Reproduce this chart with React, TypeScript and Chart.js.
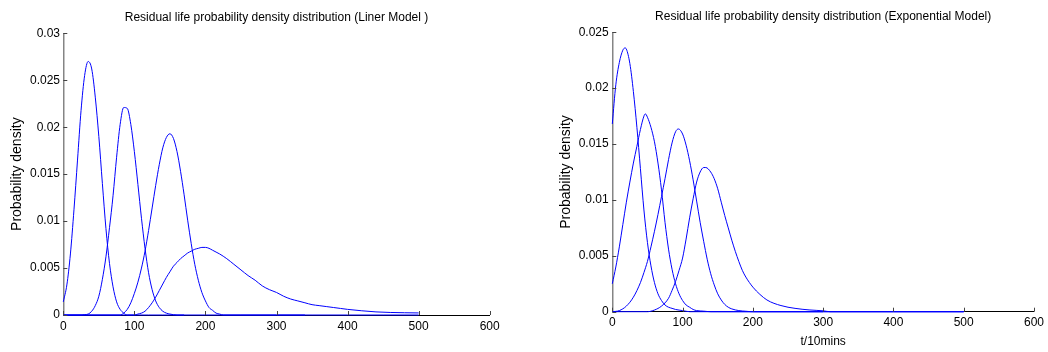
import React, { useEffect, useRef } from "react";
import { Chart, registerables } from "chart.js";

Chart.register(...registerables);

// ---------- Left chart (Liner Model) ----------
const leftTitle = "Residual life probability density distribution (Liner Model )";
const leftYTickLabels = ["0", "0.005", "0.01", "0.015", "0.02", "0.025", "0.03"];
const xTickLabels = ["0", "100", "200", "300", "400", "500", "600"];

const L1x = [0, 5, 10, 15, 20, 25, 30, 35, 40, 45, 50, 55, 60, 65, 70, 75, 80, 85, 90, 100, 120, 140, 170];
const L1y = [0.0014, 0.0032, 0.0065, 0.0112, 0.0165, 0.0218, 0.0255, 0.027, 0.0262, 0.0232, 0.019, 0.014, 0.0092, 0.0055, 0.003, 0.0014, 0.0006, 0.0002, 0, 0, 0, 0, 0];

const L2x = [0, 25, 30, 35, 40, 45, 50, 55, 60, 65, 70, 75, 80, 85, 90, 95, 100, 105, 110, 115, 120, 125, 130, 135, 140, 145, 150, 160, 200, 250, 300, 340];
const L2y = [0, 0, 0.00004, 0.0001, 0.0004, 0.001, 0.002, 0.0038, 0.0062, 0.0093, 0.0127, 0.0168, 0.0203, 0.0221, 0.022, 0.0203, 0.0174, 0.0139, 0.0103, 0.0071, 0.0045, 0.0027, 0.0015, 0.0008, 0.0004, 0.0002, 0.0001, 0, 0, 0, 0, 0];

const L3x = [0, 80, 85, 90, 95, 100, 105, 110, 115, 120, 125, 130, 135, 140, 145, 150, 155, 160, 165, 170, 175, 180, 185, 190, 195, 200, 205, 210, 215, 220, 225, 250, 300, 350, 400, 450, 500];
const L3y = [0, 0, 0.0002, 0.0006, 0.0013, 0.0023, 0.0035, 0.005, 0.0068, 0.009, 0.0114, 0.0138, 0.016, 0.0178, 0.0189, 0.0193, 0.0188, 0.0174, 0.0153, 0.0128, 0.0101, 0.0076, 0.0054, 0.0037, 0.0024, 0.0015, 0.0008, 0.0005, 0.0002, 0.0001, 0, 0, 0, 0, 0, 0, 0];

const L4x = [0, 100, 105, 110, 115, 120, 125, 130, 135, 140, 145, 150, 155, 160, 165, 170, 175, 180, 185, 190, 195, 200, 205, 210, 215, 220, 230, 240, 250, 260, 270, 280, 290, 300, 310, 320, 330, 340, 350, 360, 370, 380, 390, 400, 420, 440, 460, 480, 500];
const L4y = [0, 0, 0.0001, 0.0002, 0.0004, 0.0008, 0.0013, 0.0019, 0.0026, 0.0033, 0.004, 0.0046, 0.0052, 0.0056, 0.006, 0.0063, 0.0066, 0.0068, 0.007, 0.0071, 0.0072, 0.0072, 0.0071, 0.0069, 0.0067, 0.0065, 0.006, 0.0054, 0.0048, 0.0042, 0.0037, 0.0031, 0.0027, 0.0024, 0.002, 0.0017, 0.0015, 0.0013, 0.0011, 0.001, 0.0009, 0.0008, 0.0007, 0.0006, 0.00045, 0.00033, 0.00027, 0.00024, 0.00022];

// ---------- Right chart (Exponential Model) ----------
const rightTitle = "Residual life probability density distribution (Exponential Model)";
const rightYTickLabels = ["0", "0.005", "0.01", "0.015", "0.02", "0.025"];
const rightXTitle = "t/10mins";
const yTitle = "Probability density";

const E1x = [0, 5, 10, 15, 18, 20, 25, 30, 35, 40, 45, 50, 55, 60, 65, 70, 75, 80, 85, 90, 100, 110, 150, 200, 300];
const E1y = [0.0168, 0.0203, 0.0223, 0.0234, 0.0236, 0.0235, 0.0222, 0.0197, 0.0165, 0.0128, 0.0091, 0.0062, 0.0041, 0.0026, 0.0016, 0.001, 0.0006, 0.0004, 0.0003, 0.0002, 0.0001, 0, 0, 0, 0];

const E2x = [0, 5, 10, 15, 20, 25, 30, 35, 40, 45, 47, 50, 55, 60, 65, 70, 75, 80, 85, 90, 95, 100, 105, 110, 115, 120, 130, 140, 200, 300, 400, 500];
const E2y = [0.0025, 0.004, 0.0058, 0.0078, 0.0098, 0.0116, 0.0133, 0.0148, 0.0163, 0.0175, 0.0177, 0.0174, 0.0165, 0.0152, 0.0133, 0.0109, 0.008, 0.0056, 0.0038, 0.0025, 0.0016, 0.001, 0.0006, 0.0004, 0.0002, 0.0001, 0.00005, 0, 0, 0, 0, 0];

const E3x = [0, 10, 20, 30, 40, 45, 50, 55, 60, 65, 70, 75, 80, 85, 90, 94, 100, 105, 110, 115, 120, 125, 130, 135, 140, 145, 150, 155, 160, 165, 170, 180, 190, 200, 300, 400, 500];
const E3y = [0, 0.0001, 0.0005, 0.0013, 0.0026, 0.0035, 0.0045, 0.0058, 0.0072, 0.0087, 0.0103, 0.0119, 0.0136, 0.0151, 0.0161, 0.01635, 0.0159, 0.0149, 0.0135, 0.0118, 0.0099, 0.008, 0.0063, 0.0047, 0.0034, 0.0024, 0.0016, 0.00105, 0.00065, 0.0004, 0.00025, 0.0001, 0.00004, 0, 0, 0, 0];

const E4x = [0, 50, 60, 70, 80, 85, 90, 95, 100, 105, 110, 115, 120, 125, 130, 133, 140, 145, 150, 155, 160, 165, 170, 175, 180, 185, 190, 200, 210, 220, 230, 240, 250, 260, 270, 280, 290, 300, 310, 400, 500];
const E4y = [0, 0, 0.00015, 0.0005, 0.0012, 0.0019, 0.0027, 0.0037, 0.0048, 0.0065, 0.0084, 0.0101, 0.0116, 0.0125, 0.0129, 0.0129, 0.0125, 0.0119, 0.011, 0.0098, 0.0086, 0.0075, 0.0064, 0.0054, 0.0045, 0.0037, 0.0031, 0.0022, 0.00155, 0.00105, 0.00075, 0.00055, 0.0004, 0.0003, 0.00022, 0.00016, 0.00012, 0.00008, 0, 0, 0];

const FONT = "'Liberation Sans', Arial, sans-serif";
const LINE_COLOR = "rgb(0,0,255)";

const toPoints = (xs: number[], ys: number[]) => xs.map((x, i) => ({ x, y: ys[i] }));

const inwardTicks = {
  id: "inwardTicks",
  afterDatasetsDraw(chart: any) {
    const { ctx, chartArea, scales } = chart;
    const xs = scales.x;
    const ys = scales.y;
    ctx.save();
    ctx.strokeStyle = "#444";
    ctx.lineWidth = 1;
    ctx.beginPath();
    xs.ticks.forEach((t: any) => {
      const px = Math.round(xs.getPixelForValue(t.value)) + 0.5;
      ctx.moveTo(px, chartArea.bottom);
      ctx.lineTo(px, chartArea.bottom - 4);
    });
    ys.ticks.forEach((t: any) => {
      const py = Math.round(ys.getPixelForValue(t.value)) + 0.5;
      ctx.moveTo(chartArea.left, py);
      ctx.lineTo(chartArea.left + 4, py);
    });
    ctx.stroke();
    ctx.restore();
  },
};

type Cfg = {
  series: { x: number[]; y: number[] }[];
  title: string;
  yMax: number;
  yLabels: string[];
  xTitle: string | null;
  padLeft: number;
  padRight: number;
  yWidth: number;
  xHeight: number;
  titleTop: number;
  titleBottom: number;
  yTitlePad: number;
  yTickPad: number;
};

function buildConfig(c: Cfg): any {
  return {
    type: "line",
    data: {
      datasets: c.series.map((s) => ({
        data: toPoints(s.x, s.y),
        borderColor: LINE_COLOR,
        backgroundColor: LINE_COLOR,
        borderWidth: 1,
        pointRadius: 0,
        fill: false,
        cubicInterpolationMode: "monotone",
        clip: false,
      })),
    },
    options: {
      responsive: false,
      animation: false,
      devicePixelRatio: 1,
      layout: { padding: { left: c.padLeft, right: c.padRight, top: 0, bottom: 0 } },
      plugins: {
        legend: { display: false },
        tooltip: { enabled: false },
        title: {
          display: true,
          text: c.title,
          fullSize: false,
          color: "#000",
          font: { family: FONT, size: 12, weight: "normal" },
          padding: { top: c.titleTop, bottom: c.titleBottom },
        },
      },
      scales: {
        x: {
          type: "linear",
          min: 0,
          max: 600,
          grid: { display: false, drawTicks: false },
          border: { display: true, color: "#000", width: 1 },
          ticks: {
            stepSize: 100,
            padding: 4,
            color: "#000",
            maxRotation: 0,
            autoSkip: false,
            font: { family: FONT, size: 12 },
            callback: (_v: any, i: number) => xTickLabels[i],
          },
          title: c.xTitle
            ? {
                display: true,
                text: c.xTitle,
                color: "#000",
                font: { family: FONT, size: 12 },
                padding: { top: 0, bottom: 3.3 },
              }
            : { display: false },
          afterFit: (s: any) => {
            s.height = c.xHeight;
          },
        },
        y: {
          type: "linear",
          min: 0,
          max: c.yMax,
          grid: { display: false, drawTicks: false },
          border: { display: true, color: "#858585", width: 1.5 },
          ticks: {
            stepSize: 0.005,
            padding: c.yTickPad,
            color: "#000",
            autoSkip: false,
            font: { family: FONT, size: 12 },
            callback: (_v: any, i: number) => c.yLabels[i],
          },
          title: {
            display: true,
            text: yTitle,
            color: "#000",
            font: { family: FONT, size: 14 },
            padding: { top: c.yTitlePad, bottom: 0 },
          },
          afterFit: (s: any) => {
            s.width = c.yWidth;
          },
        },
      },
    },
    plugins: [inwardTicks],
  };
}

function ChartCanvas({ cfg, left }: { cfg: Cfg; left: number }) {
  const ref = useRef<HTMLCanvasElement | null>(null);
  useEffect(() => {
    if (!ref.current) return;
    const chart = new Chart(ref.current, buildConfig(cfg));
    return () => chart.destroy();
  }, []);
  return (
    <canvas
      ref={ref}
      width={524}
      height={352}
      style={{ position: "absolute", left, top: 0, width: 524, height: 352 }}
    />
  );
}

const leftCfg: Cfg = {
  series: [
    { x: L1x, y: L1y },
    { x: L2x, y: L2y },
    { x: L3x, y: L3y },
    { x: L4x, y: L4y },
  ],
  title: leftTitle,
  yMax: 0.03,
  yLabels: leftYTickLabels,
  xTitle: null,
  padLeft: 0,
  padRight: 34.3,
  yWidth: 63.3,
  xHeight: 37,
  titleTop: 10.3,
  titleBottom: 8.6,
  yTitlePad: 9.1,
  yTickPad: 3.3,
};

const rightCfg: Cfg = {
  series: [
    { x: E1x, y: E1y },
    { x: E2x, y: E2y },
    { x: E3x, y: E3y },
    { x: E4x, y: E4y },
  ],
  title: rightTitle,
  yMax: 0.025,
  yLabels: rightYTickLabels,
  xTitle: rightXTitle,
  padLeft: 30,
  padRight: 10,
  yWidth: 58.3,
  xHeight: 40.3,
  titleTop: 9.1,
  titleBottom: 8.8,
  yTitlePad: 3.6,
  yTickPad: 3.6,
};

export default function App() {
  return (
    <div
      style={{
        position: "absolute",
        left: 0,
        top: 0,
        width: 1048,
        height: 352,
        background: "#fff",
        overflow: "hidden",
      }}
    >
      <ChartCanvas cfg={leftCfg} left={0} />
      <ChartCanvas cfg={rightCfg} left={524} />
    </div>
  );
}
